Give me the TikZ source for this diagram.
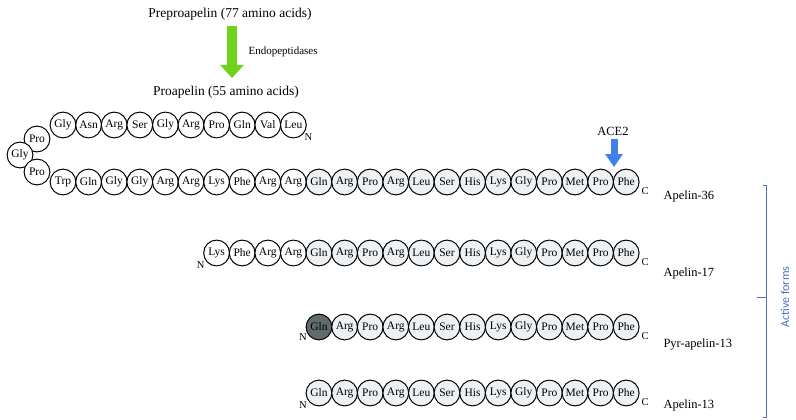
\documentclass[tikz,border=0pt]{standalone}
\usepackage{fontspec}
\setmainfont{Liberation Serif}
\newfontfamily\sidefont{Carlito}
\usetikzlibrary{arrows.meta}
\definecolor{resgray}{HTML}{EEF1F3}
\definecolor{pyrgray}{HTML}{606B6C}
\definecolor{acebl}{HTML}{4180E6}
\definecolor{endogr}{HTML}{6FD31C}
\definecolor{brackbl}{HTML}{4A72C0}
\tikzset{
  res/.style={draw,circle,minimum size=25.8pt,inner sep=0pt,line width=1pt,
    fill=white,font=\fontsize{11.5}{13}\selectfont},
  shd/.style={res,fill=resgray},
  term/.style={font=\fontsize{10.5}{12}\selectfont},
  formlabel/.style={anchor=west,font=\fontsize{12.5}{14}\selectfont}
}

\begin{document}
\begin{tikzpicture}[x=1pt,y=-1pt]
  \useasboundingbox[fill=white] (0,0) rectangle (796,420);

  \node (pre) at (230,14) [font=\fontsize{13.5}{16}\selectfont] {Preproapelin (77 amino acids)};
  \node (pro) at (226,92) [font=\fontsize{13.5}{16}\selectfont] {Proapelin (55 amino acids)};
  \node (endo) at (245,52) [anchor=west,font=\fontsize{11}{13}\selectfont] {Endopeptidases};
  \coordinate (g1) at (232,26);
  \coordinate (g2) at (232,78);
  \draw[endogr,line width=10pt,-{Triangle[width=23pt,length=13pt]}] (g1) -- (g2);

  % proapelin, N-terminal part and the bend
  \foreach \r [count=\i] in {Gly,Asn,Arg,Ser,Gly,Arg,Pro,Gln,Val,Leu}
    \node (t\i) at ({63+25.6*(\i-1)},125) [res] {\r};
  \node (bp1) at (37,139) [res] {Pro};
  \node (bg) at (20,155) [res] {Gly};
  \node (bp2) at (37,172) [res] {Pro};
  \draw (t10) ++(15,12) node [term] {N};

  % apelin-36
  \foreach \r [count=\i] in {Trp,Gln,Gly,Gly,Arg,Arg,Lys,Phe,Arg,Arg}
    \node (a\i) at ({63+25.6*(\i-1)},182) [res] {\r};
  \foreach \r [count=\i] in {Gln,Arg,Pro,Arg,Leu,Ser,His,Lys,Gly,Pro,Met,Pro,Phe}
    \node (b\i) at ({319+25.6*(\i-1)},182) [shd] {\r};
  \draw (b13) ++(19,9) node [term] {C};
  \node (l36) at (660,196) [formlabel] {Apelin-36};

  \node (ace) at (613,131) [font=\fontsize{12.5}{14}\selectfont] {ACE2};
  \coordinate (cut) at (614,167);
  \draw[acebl,line width=7pt,-{Triangle[width=17pt,length=13pt]}] (ace.south -| cut) -- (cut);

  % apelin-17
  \foreach \r [count=\i] in {Lys,Phe,Arg,Arg}
    \node (c\i) at ({216.6+25.6*(\i-1)},253) [res] {\r};
  \foreach \r [count=\i] in {Gln,Arg,Pro,Arg,Leu,Ser,His,Lys,Gly,Pro,Met,Pro,Phe}
    \node (d\i) at ({319+25.6*(\i-1)},253) [shd] {\r};
  \draw (c1) ++(-16,12) node [term] {N};
  \draw (d13) ++(19,9) node [term] {C};
  \node (l17) at (660,273) [formlabel] {Apelin-17};

  % pyr-apelin-13
  \node (e1) at (319,327) [res,fill=pyrgray] {Gln};
  \foreach \r [count=\i from 2] in {Arg,Pro,Arg,Leu,Ser,His,Lys,Gly,Pro,Met,Pro,Phe}
    \node (e\i) at ({319+25.6*(\i-1)},327) [shd] {\r};
  \draw (e1) ++(-16,10) node [term] {N};
  \draw (e13) ++(19,9) node [term] {C};
  \node (lpyr) at (660,345) [formlabel] {Pyr-apelin-13};

  % apelin-13
  \foreach \r [count=\i] in {Gln,Arg,Pro,Arg,Leu,Ser,His,Lys,Gly,Pro,Met,Pro,Phe}
    \node (f\i) at ({319+25.6*(\i-1)},393) [shd] {\r};
  \draw (f1) ++(-16,12) node [term] {N};
  \draw (f13) ++(19,9) node [term] {C};
  \node (l13) at (660,405) [formlabel] {Apelin-13};

  % bracket
  \coordinate (k1) at (766,185);
  \coordinate (k2) at (766,417);
  \coordinate (km) at (766,297);
  \draw[brackbl,line width=0.8pt] ([xshift=-3pt]k1) -- (k1) -- (k2) -- ([xshift=-3pt]k2);
  \draw[brackbl,line width=0.8pt] (km) -- ([xshift=-9pt]km);
  \node (act) at (785,297) [rotate=90,brackbl,font=\sidefont\fontsize{12}{14}\selectfont] {Active forms};
\end{tikzpicture}
\end{document}
